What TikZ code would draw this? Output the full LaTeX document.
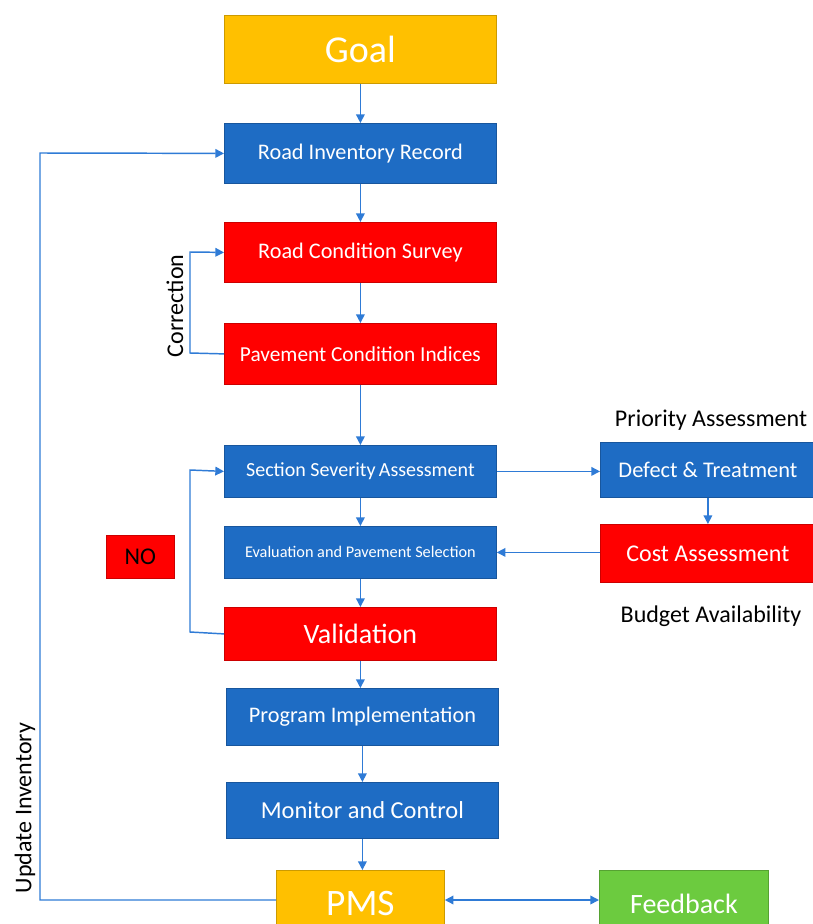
\documentclass[tikz,border=0pt]{standalone}
\usepackage{fontspec}
\setmainfont{Carlito}
\usetikzlibrary{arrows.meta}
\definecolor{boxblue}{HTML}{1E6CC4}
\definecolor{boxred}{HTML}{FF0000}
\definecolor{boxorange}{HTML}{FFC000}
\definecolor{boxgreen}{HTML}{6CCB3F}
\definecolor{linkblue}{HTML}{2F7BD6}
\newcommand{\fsz}[1]{\fontsize{#1}{#1}\selectfont}
\begin{document}
\begin{tikzpicture}[x=0.75pt,y=-0.75pt,
  box/.style={draw=#1!80!black, line width=0.6pt, fill=#1, text=white, inner sep=0pt, anchor=north west},
  link/.style={draw=linkblue, line width=1.1pt, -{Triangle[length=6.5pt,width=6.5pt]}},
  lbl/.style={text=black, font=\fsz{18}}]
\useasboundingbox (0,0) rectangle (813,924);
\clip (0,0) rectangle (813,924);
\fill[white] (0,0) rectangle (813,924);

% main column
\node[box=boxorange, minimum width=272*0.75pt, minimum height=68*0.75pt, font=\fsz{28.5}] (goal) at (224,15) {Goal};
\node[box=boxblue, minimum width=272*0.75pt, minimum height=60*0.75pt, font=\fsz{16.7}] (rir) at (224,123) {Road Inventory Record};
\node[box=boxred, minimum width=272*0.75pt, minimum height=60*0.75pt, font=\fsz{16.7}] (rcs) at (224,222) {Road Condition Survey};
\node[box=boxred, minimum width=272*0.75pt, minimum height=61*0.75pt, font=\fsz{16}] (pci) at (224,323) {Pavement Condition Indices};
\node[box=boxblue, minimum width=272*0.75pt, minimum height=52*0.75pt, font=\fsz{15}] (ssa) at (224,445) {Section Severity\,Assessment};
\node[box=boxblue, minimum width=272*0.75pt, minimum height=52*0.75pt, font=\fsz{12.2}] (eps) at (224,526) {Evaluation and Pavement Selection};
\node[box=boxred, minimum width=272*0.75pt, minimum height=53*0.75pt, font=\fsz{21}] (val) at (224,607) {Validation};
\node[box=boxblue, minimum width=272*0.75pt, minimum height=57*0.75pt, font=\fsz{16.7}] (pim) at (226,688) {Program Implementation};
\node[box=boxblue, minimum width=272*0.75pt, minimum height=56*0.75pt, font=\fsz{18.3}] (mac) at (226,782) {Monitor and Control};
\node[box=boxorange, minimum width=168*0.75pt, minimum height=66*0.75pt, font=\fsz{28}] (pms) at (276,870) {PMS};
\node[box=boxgreen, minimum width=169*0.75pt, minimum height=66*0.75pt, font=\fsz{21}] (fb) at (599,870) {Feedback};

% side column
\node[box=boxblue, minimum width=215*0.75pt, minimum height=55*0.75pt, font=\fsz{16.8}] (dt) at (600,442) {Defect \& Treatment};
\node[box=boxred, minimum width=215*0.75pt, minimum height=58*0.75pt, font=\fsz{18}] (ca) at (600,524) {Cost Assessment};
\node[box=boxred, text=black, minimum width=68*0.75pt, minimum height=43*0.75pt, font=\fsz{18}] (no) at (106,535) {NO};

% free labels
\node[lbl] (pa) at (711,420) {Priority Assessment};
\node[lbl] (ba) at (711,616) {Budget Availability};
\node[lbl, rotate=90] (corr) at (175,306) {Correction};
\node[lbl, rotate=90] (upd) at (25,808) {Update Inventory};

% downward flow
\draw[link] (goal) -- (rir);
\draw[link] (rir) -- (rcs);
\draw[link] (rcs) -- (pci);
\draw[link] (pci) -- (ssa);
\draw[link] (ssa) -- (eps);
\draw[link] (eps) -- (val);
\draw[link] (val.south) -- (pim.north -| val.south);
\draw[link] (pim.south) -- (mac.north -| pim.south);
\draw[link] (mac.south) -- (pms.north -| mac.south);

% feedback loops
\coordinate (c1) at (190,353);
\coordinate (c2) at (190,252);
\draw[link] (pci.west) -- (c1) -- (c2) -- (rcs.west);
\coordinate (n1) at (190,632);
\coordinate (n2) at (190,470);
\draw[link] (val.west) -- (n1) -- (n2) -- (ssa.west);
\coordinate (u1) at (40,900);
\coordinate (u2) at (40,153);
\draw[link] (pms.west |- u1) -- (u1) -- (u2) -- (rir.west);

% side branch
\draw[link] (ssa.east) -- (ssa.east -| dt.west);
\draw[link] (dt) -- (ca);
\draw[link] (ca.west |- eps.east) -- (eps.east);
\draw[link, {Triangle[length=6.5pt,width=6.5pt]}-{Triangle[length=6.5pt,width=6.5pt]}] (pms.east |- u1) -- (fb.west |- u1);
\end{tikzpicture}
\end{document}
